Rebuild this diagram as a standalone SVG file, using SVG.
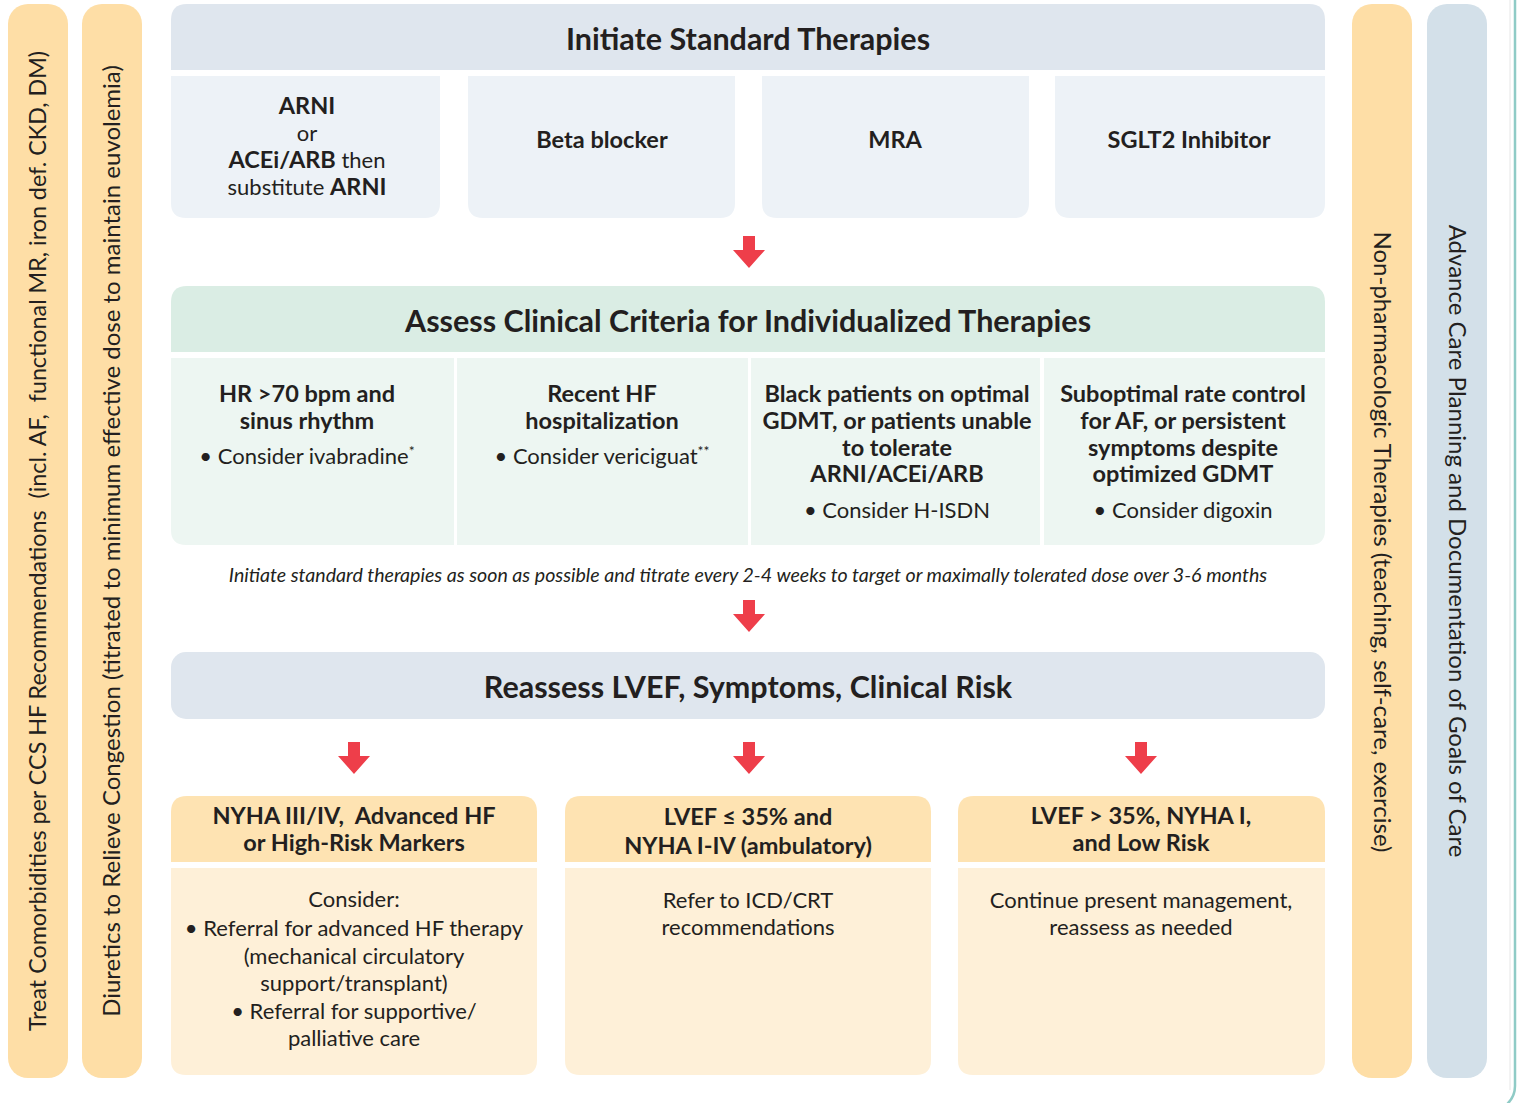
<svg xmlns="http://www.w3.org/2000/svg" width="1518" height="1103" viewBox="0 0 1518 1103">
<defs>
<style>
text{font-family:Lato,"Liberation Sans",sans-serif;fill:#231F20;text-anchor:middle}
.h{font-size:30.5px;font-weight:700}
.b{font-size:23.5px;font-weight:700}
.r{font-size:22px;font-weight:400}
.v{font-size:24px;font-weight:400}
.it{font-size:19.6px;font-style:italic}
.sup{font-size:14px}
.org{fill:#FEDEA6}
.blu{fill:#DFE6EE}
.blu2{fill:#EDF2F7}
.grn{fill:#DAEDE4}
.grn2{fill:#EDF6F2}
.yh{fill:#FEE3B2}
.yb{fill:#FEF0D8}
.arr{fill:#EE3E4A}
</style>
<path id="arrow" d="M-6,0 H6 V14 H16 L0,32 L-16,14 H-6 Z"/>
</defs>
<rect width="1518" height="1103" fill="#fff"/>
<path d="M1510,0 V1090" stroke="#E6E6E6" stroke-width="1" fill="none"/>
<path d="M1515,0 V1086 Q1515,1098 1505,1106" stroke="#8FCBC6" stroke-width="2.5" fill="none"/>

<g id="side-comorbidities">
<rect class="org" x="8" y="4" width="60" height="1074" rx="20"/>
<text class="v" style="font-size:23.3px" transform="translate(46,541) rotate(-90)" xml:space="preserve">Treat Comorbidities per CCS HF Recommendations  (incl. AF,  functional MR, iron def. CKD, DM)</text>
</g>
<g id="side-diuretics">
<rect class="org" x="82" y="4" width="60" height="1074" rx="20"/>
<text class="v" transform="translate(120,541) rotate(-90)">Diuretics to Relieve Congestion (titrated to minimum effective dose to maintain euvolemia)</text>
</g>
<g id="side-nonpharm">
<rect class="org" x="1352" y="4" width="60" height="1074" rx="20"/>
<text class="v" transform="translate(1374,542) rotate(90)">Non-pharmacologic Therapies (teaching, self-care, exercise)</text>
</g>
<g id="side-acp">
<rect x="1427" y="4" width="60" height="1074" rx="20" fill="#D3E0E9"/>
<text class="v" transform="translate(1449,541) rotate(90)">Advance Care Planning and Documentation of Goals of Care</text>
</g>

<g id="initiate-header">
<path class="blu" d="M171,70 V20 Q171,4 187,4 H1309 Q1325,4 1325,20 V70 Z"/>
<text class="h" x="748" y="50">Initiate Standard Therapies</text>
</g>
<g id="arni">
<path class="blu2" d="M171,76 H440 V203 Q440,218 425,218 H186 Q171,218 171,203 Z"/>
<text class="b" x="307" y="114">ARNI</text>
<text class="r" x="307" y="141">or</text>
<text class="r" x="307" y="168"><tspan font-weight="700" font-size="23.5">ACEi/ARB</tspan> then</text>
<text class="r" x="307" y="195">substitute <tspan font-weight="700" font-size="23.5">ARNI</tspan></text>
</g>
<g id="beta">
<path class="blu2" d="M468,76 H735 V203 Q735,218 720,218 H483 Q468,218 468,203 Z"/>
<text class="b" x="602" y="148">Beta blocker</text>
</g>
<g id="mra">
<path class="blu2" d="M762,76 H1029 V203 Q1029,218 1014,218 H777 Q762,218 762,203 Z"/>
<text class="b" x="895" y="148">MRA</text>
</g>
<g id="sglt2">
<path class="blu2" d="M1055,76 H1325 V203 Q1325,218 1310,218 H1070 Q1055,218 1055,203 Z"/>
<text class="b" x="1189" y="148">SGLT2 Inhibitor</text>
</g>

<g id="assess-header">
<path class="grn" d="M171,352 V302 Q171,286 187,286 H1309 Q1325,286 1325,302 V352 Z"/>
<text class="h" x="748" y="332">Assess Clinical Criteria for Individualized Therapies</text>
</g>
<g id="ivabradine">
<path class="grn2" d="M171,358 H454 V545 H186 Q171,545 171,530 Z"/>
<text class="b" x="307" y="402">HR &gt;70 bpm and</text>
<text class="b" x="307" y="429">sinus rhythm</text>
<text class="r" x="307" y="464">• Consider ivabradine<tspan class="sup" dy="-8">*</tspan></text>
</g>
<g id="vericiguat">
<rect class="grn2" x="457" y="358" width="291" height="187"/>
<text class="b" x="602" y="402">Recent HF</text>
<text class="b" x="602" y="429">hospitalization</text>
<text class="r" x="602" y="464">• Consider vericiguat<tspan class="sup" dy="-8">**</tspan></text>
</g>
<g id="hisdn">
<rect class="grn2" x="751" y="358" width="289" height="187"/>
<text class="b" x="897" y="402">Black patients on optimal</text>
<text class="b" x="897" y="429">GDMT, or patients unable</text>
<text class="b" x="897" y="456">to tolerate</text>
<text class="b" x="897" y="482">ARNI/ACEi/ARB</text>
<text class="r" x="897" y="518">• Consider H-ISDN</text>
</g>
<g id="digoxin">
<path class="grn2" d="M1044,358 H1325 V530 Q1325,545 1310,545 H1044 Z"/>
<text class="b" x="1183" y="402">Suboptimal rate control</text>
<text class="b" x="1183" y="429">for AF, or persistent</text>
<text class="b" x="1183" y="456">symptoms despite</text>
<text class="b" x="1183" y="482">optimized GDMT</text>
<text class="r" x="1183" y="518">• Consider digoxin</text>
</g>

<g id="note">
<text class="it" x="748" y="582">Initiate standard therapies as soon as possible and titrate every 2-4 weeks to target or maximally tolerated dose over 3-6 months</text>
</g>

<g id="reassess-header">
<rect class="blu" x="171" y="652" width="1154" height="67" rx="15"/>
<text class="h" x="748" y="698">Reassess LVEF, Symptoms, Clinical Risk</text>
</g>

<g id="advanced">
<path class="yh" d="M171,862 V812 Q171,796 187,796 H521 Q537,796 537,812 V862 Z"/>
<path class="yb" d="M171,868 H537 V1060 Q537,1075 522,1075 H186 Q171,1075 171,1060 Z"/>
<text class="b" x="354" y="824" xml:space="preserve">NYHA III/IV,  Advanced HF</text>
<text class="b" x="354" y="851">or High-Risk Markers</text>
<text class="r" x="354" y="907">Consider:</text>
<text class="r" x="354" y="936">• Referral for advanced HF therapy</text>
<text class="r" x="354" y="964">(mechanical circulatory</text>
<text class="r" x="354" y="991">support/transplant)</text>
<text class="r" x="354" y="1019">• Referral for supportive/</text>
<text class="r" x="354" y="1046">palliative care</text>
</g>
<g id="icd">
<path class="yh" d="M565,862 V812 Q565,796 581,796 H915 Q931,796 931,812 V862 Z"/>
<path class="yb" d="M565,868 H931 V1060 Q931,1075 916,1075 H580 Q565,1075 565,1060 Z"/>
<text class="b" x="748" y="825">LVEF ≤ 35% and</text>
<text class="b" x="748" y="854">NYHA I-IV (ambulatory)</text>
<text class="r" x="748" y="908">Refer to ICD/CRT</text>
<text class="r" x="748" y="935">recommendations</text>
</g>
<g id="continue">
<path class="yh" d="M958,862 V812 Q958,796 974,796 H1309 Q1325,796 1325,812 V862 Z"/>
<path class="yb" d="M958,868 H1325 V1060 Q1325,1075 1310,1075 H973 Q958,1075 958,1060 Z"/>
<text class="b" x="1141" y="824">LVEF &gt; 35%, NYHA I,</text>
<text class="b" x="1141" y="851">and Low Risk</text>
<text class="r" x="1141" y="908">Continue present management,</text>
<text class="r" x="1141" y="935">reassess as needed</text>
</g>

<g id="connectors" class="arr">
<use href="#arrow" x="749" y="236"/>
<use href="#arrow" x="749" y="600"/>
<use href="#arrow" x="354" y="742"/>
<use href="#arrow" x="749" y="742"/>
<use href="#arrow" x="1141" y="742"/>
</g>
</svg>
